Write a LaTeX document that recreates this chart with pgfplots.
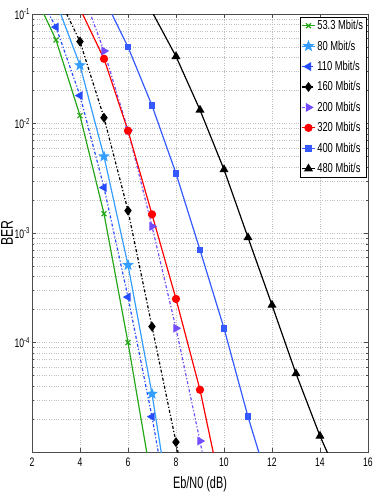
\documentclass[border=0pt]{standalone}
\usepackage{fontspec}
\setmainfont[FakeStretch=0.72]{Liberation Sans}
\newfontfamily\tickfont[FakeStretch=0.7]{Liberation Sans}
\newfontfamily\labfont[FakeStretch=0.66]{Liberation Sans}
\usepackage{pgfplots}
\pgfplotsset{compat=1.18}
\usetikzlibrary{plotmarks}

\definecolor{cgreen}{rgb}{0.15,0.65,0.1}
\definecolor{clblue}{rgb}{0.2,0.62,1}
\definecolor{cblue}{rgb}{0.15,0.3,1}
\definecolor{cpurple}{rgb}{0.45,0.3,1}
\definecolor{cblue2}{rgb}{0.2,0.35,1}

% filled five-pointed star
\pgfdeclareplotmark{pentagram*}{%
  \pgfpathmoveto{\pgfqpointpolar{90}{\pgfplotmarksize}}%
  \pgfpathlineto{\pgfqpointpolar{126}{0.42\pgfplotmarksize}}%
  \pgfpathlineto{\pgfqpointpolar{162}{\pgfplotmarksize}}%
  \pgfpathlineto{\pgfqpointpolar{198}{0.42\pgfplotmarksize}}%
  \pgfpathlineto{\pgfqpointpolar{234}{\pgfplotmarksize}}%
  \pgfpathlineto{\pgfqpointpolar{270}{0.42\pgfplotmarksize}}%
  \pgfpathlineto{\pgfqpointpolar{306}{\pgfplotmarksize}}%
  \pgfpathlineto{\pgfqpointpolar{342}{0.42\pgfplotmarksize}}%
  \pgfpathlineto{\pgfqpointpolar{18}{\pgfplotmarksize}}%
  \pgfpathlineto{\pgfqpointpolar{54}{0.42\pgfplotmarksize}}%
  \pgfpathclose
  \pgfusepathqfillstroke
}

\begin{document}
\begin{tikzpicture}
\begin{axis}[
    scale only axis,
    width=336pt, height=438pt,
    ymode=log,
    xmin=2, xmax=16, ymin=1e-5, ymax=1e-1,
    xtick={2,4,...,16},
    xticklabels={2,4,6,8,10,12,14,16},
    ytick={1e-5,1e-4,1e-3,1e-2,1e-1},
    yticklabels={,10\textsuperscript{-4},10\textsuperscript{-3},10\textsuperscript{-2},10\textsuperscript{-1}},
    tick align=inside,
    major tick length=4pt, minor tick length=2pt,
    tick style={black!70},
    axis line style={black!70},
    ymajorgrids, yminorgrids, xmajorgrids,
    major grid style={dotted, black!25, line width=0.4pt},
    minor grid style={dotted, black!25, line width=0.4pt},
    tick label style={font=\tickfont\fontsize{12.3}{13}\selectfont},
    xticklabel style={yshift=-2pt},
    yticklabel style={xshift=1.5pt},
    xlabel={Eb/N0 (dB)},
    ylabel={BER},
    every axis y label/.style={at={(axis description cs:0,0.5)}, xshift=-25pt, rotate=90, anchor=center, font=\fontsize{17}{18}\selectfont},
    every axis x label/.style={at={(axis description cs:0.5,0)}, yshift=-32pt, anchor=center, font=\labfont\fontsize{16.5}{18}\selectfont},
    legend style={at={(0.995,0.993)}, anchor=north east, draw=black,
        font=\fontsize{13}{15}\selectfont, inner sep=1pt, row sep=5.5pt,
        cells={anchor=west}},
    legend image code/.code={\draw[mark repeat=2,mark phase=2] plot coordinates {(0cm,0cm) (0.22cm,0cm) (0.44cm,0cm)};},
    every axis plot/.append style={line width=1.2pt},
]
\addplot[cgreen, mark=x, mark size=3.5pt] coordinates {
  (2,0.17) (3,0.058) (4,0.0118) (5,1.5e-3) (6,1.0e-4) (7,5.2e-6)};
\addlegendentry{53.3 Mbit/s}
\addplot[clblue, mark=pentagram*, mark size=4.5pt, mark options={solid}] coordinates {
  (3,0.13) (4,0.034) (5,5.0e-3) (6,5.1e-4) (7,3.4e-5) (8,1.4e-6)};
\addlegendentry{80 Mbit/s}
\addplot[cblue, dash dot, mark=triangle*, mark size=4pt, mark options={solid, rotate=90}] coordinates {
  (2,0.19) (3,0.076) (4,0.018) (5,2.6e-3) (6,2.6e-4) (7,2.1e-5) (8,1.2e-6)};
\addlegendentry{110 Mbit/s}
\addplot[black, dash dot, mark=diamond*, mark size=4pt, mark options={solid}] coordinates {
  (3,0.16) (4,0.056) (5,0.0113) (6,1.6e-3) (7,1.4e-4) (8,1.23e-5) (9,1e-6)};
\addlegendentry{160 Mbit/s}
\addplot[cpurple, dash dot, mark=triangle*, mark size=4pt, mark options={solid, rotate=-90}] coordinates {
  (4,0.18) (5,0.046) (6,8.7e-3) (7,1.15e-3) (8,1.35e-4) (9,1.26e-5) (10,1e-6)};
\addlegendentry{200 Mbit/s}
\addplot[red, mark=*, mark size=3.5pt] coordinates {
  (4,0.112) (5,0.039) (6,8.6e-3) (7,1.48e-3) (8,2.5e-4) (9,3.7e-5) (10,3.4e-6)};
\addlegendentry{320 Mbit/s}
\addplot[cblue2, mark=square*, mark size=2.8pt] coordinates {
  (5,0.14) (6,0.050) (7,0.0146) (8,3.5e-3) (9,7.0e-4) (10,1.35e-4) (11,2.1e-5) (12,4e-6)};
\addlegendentry{400 Mbit/s}
\addplot[black, mark=triangle*, mark size=4pt] coordinates {
  (7,0.105) (8,0.041) (9,0.0133) (10,3.8e-3) (11,9.1e-4) (12,2.2e-4) (13,5.2e-5) (14,1.4e-5) (15,4.5e-6)};
\addlegendentry{480 Mbit/s}
\end{axis}
\pgfresetboundingbox
\path[use as bounding box] ([shift={(-32pt,-46pt)}]current axis.south west) rectangle ([shift={(6pt,14pt)}]current axis.north east);
\end{tikzpicture}
\end{document}
